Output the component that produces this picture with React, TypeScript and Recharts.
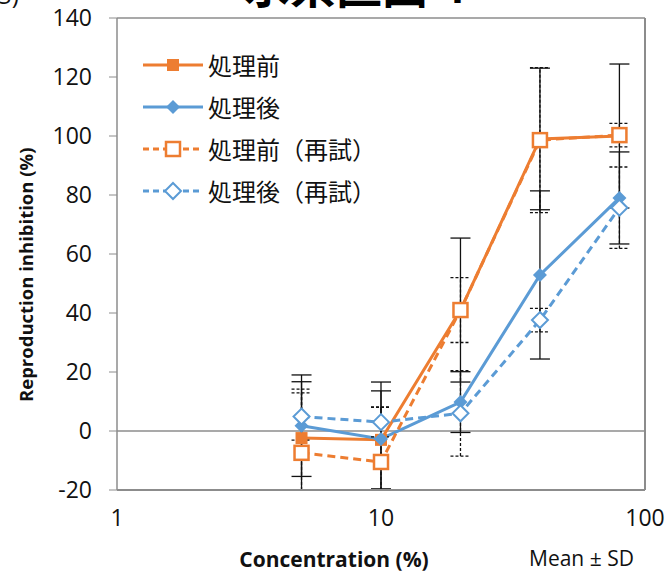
import { ErrorBar, Legend, Line, LineChart, ReferenceLine, XAxis, YAxis } from 'recharts'

const concentrations = [5, 10, 20, 40, 80]

const seriesNames = ['処理前', '処理後', '処理前（再試）', '処理後（再試）']

const preMean = [-2.4, -3.0, 41, 99, 100]
const postMean = [1.8, -2.7, 9.8, 52.9, 79]
const preRetestMean = [-7.4, -10.5, 41, 98.6, 100.3]
const postRetestMean = [4.9, 3.0, 6.0, 37.6, 75.7]

const preSd = [19.1, 16.6, 24.4, 24, 24.4]
const postSd = [17.2, 19.3, 10.3, 28.5, 15.6]
const preRetestSd = [21.6, 18.7, 11, 24.6, 4]
const postRetestSd = [8, 5, 14.5, 4, 13.8]

const xTicks = [1, 10, 100]
const yTicks = [-20, 0, 20, 40, 60, 80, 100, 120, 140]
const Y_MIN = -20

const ORANGE = '#ED7D31'
const BLUE = '#5B9BD5'
const AXIS = '#8c8c8c'

// error bars are cut at the bottom of the plot, like the original
const err = (mean: number, sd: number) => [Math.min(sd, mean - Y_MIN), sd]

const data = concentrations.map((x, i) => ({
    x,
    pre: preMean[i],
    post: postMean[i],
    preRe: preRetestMean[i],
    postRe: postRetestMean[i],
    preSd: err(preMean[i], preSd[i]),
    postSd: err(postMean[i], postSd[i]),
    preReSd: err(preRetestMean[i], preRetestSd[i]),
    postReSd: err(postRetestMean[i], postRetestSd[i]),
}))

type Shape = 'square' | 'diamond'

function marker(shape: Shape, color: string, filled: boolean, cx: number, cy: number, key?: string | number) {
    if (shape === 'square') {
        const s = filled ? 6 : 7
        return (
            <rect
                key={key}
                x={cx - s}
                y={cy - s}
                width={s * 2}
                height={s * 2}
                fill={filled ? color : '#fff'}
                stroke={color}
                strokeWidth={filled ? 0 : 2.5}
            />
        )
    }
    const s = filled ? 7 : 8
    return (
        <polygon
            key={key}
            points={`${cx},${cy - s} ${cx + s},${cy} ${cx},${cy + s} ${cx - s},${cy}`}
            fill={filled ? color : '#fff'}
            stroke={color}
            strokeWidth={filled ? 0 : 2}
        />
    )
}

const series = [
    { key: 'pre', sd: 'preSd', name: seriesNames[0], color: ORANGE, shape: 'square' as Shape, filled: true, dash: undefined, barDash: undefined },
    { key: 'post', sd: 'postSd', name: seriesNames[1], color: BLUE, shape: 'diamond' as Shape, filled: true, dash: undefined, barDash: undefined },
    { key: 'preRe', sd: 'preReSd', name: seriesNames[2], color: ORANGE, shape: 'square' as Shape, filled: false, dash: '8 5', barDash: '3 2' },
    { key: 'postRe', sd: 'postReSd', name: seriesNames[3], color: BLUE, shape: 'diamond' as Shape, filled: false, dash: '8 5', barDash: '3 2' },
]

function renderLegend() {
    return (
        <div style={{ fontFamily: '"Noto Sans CJK JP", sans-serif', fontSize: 24, lineHeight: 1 }}>
            {series.map((s) => (
                <div key={s.key} style={{ display: 'flex', alignItems: 'center', height: 42 }}>
                    <svg width={60} height={20}>
                        <line x1={0} x2={60} y1={10} y2={10} stroke={s.color} strokeWidth={3} strokeDasharray={s.dash ? '6 4' : undefined} />
                        {marker(s.shape, s.color, s.filled, 30, 10)}
                    </svg>
                    <span style={{ marginLeft: 5, color: '#111', whiteSpace: 'nowrap' }}>{s.name}</span>
                </div>
            ))}
        </div>
    )
}

export default function App() {
    return (
        <div style={{ position: 'absolute', left: 0, top: 0, width: 668, height: 572, background: '#fff', overflow: 'hidden' }}>
            <LineChart
                width={668}
                height={572}
                data={data}
                margin={{ top: 18, right: 23, left: 0, bottom: 0 }}
                style={{ fontFamily: '"Open Sans", sans-serif' }}
            >
                <text x={-9} y={4} fontSize={24} fill="#111">(5)</text>
                <text x={244} y={3} fontSize={46} fontWeight={700} fill="#000" fontFamily='"Noto Sans CJK JP", sans-serif'>
                    水系区画４
                </text>
                <XAxis
                    dataKey="x"
                    type="number"
                    scale="log"
                    domain={[1, 100]}
                    ticks={xTicks}
                    allowDataOverflow
                    height={82}
                    tickLine={false}
                    tickSize={8}
                    tickMargin={12}
                    axisLine={{ stroke: AXIS, strokeWidth: 2 }}
                    tick={{ fill: '#111', fontSize: 23 }}
                    label={{ value: 'Concentration (%)', position: 'insideBottom', offset: 5, dx: -47, fontSize: 21, fontWeight: 700, fill: '#111' }}
                />
                <YAxis
                    type="number"
                    domain={[Y_MIN, 140]}
                    ticks={yTicks}
                    allowDataOverflow
                    width={117}
                    tickSize={8}
                    tickMargin={17}
                    tickLine={{ stroke: AXIS }}
                    axisLine={{ stroke: AXIS, strokeWidth: 1.5 }}
                    tick={{ fill: '#111', fontSize: 23 }}
                    label={{ value: 'Reproduction inhibition (%)', angle: -90, position: 'insideLeft', offset: 26, dy: 148, fontSize: 18.5, fontWeight: 700, fill: '#111' }}
                />
                <ReferenceLine y={0} stroke={AXIS} strokeWidth={1.5} />
                <ReferenceLine y={140} stroke={AXIS} strokeWidth={1.5} />
                <ReferenceLine x={100} stroke={AXIS} strokeWidth={2} />
                <Legend
                    content={renderLegend}
                    layout="vertical"
                    verticalAlign="middle"
                    align="center"
                    wrapperStyle={{ top: 44, left: 143, width: 280 }}
                />
                {series.map((s) => (
                    <Line
                        key={s.key}
                        dataKey={s.key}
                        name={s.name}
                        stroke={s.color}
                        strokeWidth={3}
                        strokeDasharray={s.dash}
                        isAnimationActive={false}
                        dot={(p: any) => marker(s.shape, s.color, s.filled, p.cx, p.cy, `${s.key}-${p.index}`)}
                        activeDot={false}
                    >
                        <ErrorBar
                            dataKey={s.sd}
                            direction="y"
                            width={10}
                            stroke="#111"
                            strokeWidth={1.3}
                            strokeDasharray={s.barDash}
                        />
                    </Line>
                ))}
                <text x={529} y={566} fontSize={21} fill="#111">Mean ± SD</text>
            </LineChart>
        </div>
    )
}
